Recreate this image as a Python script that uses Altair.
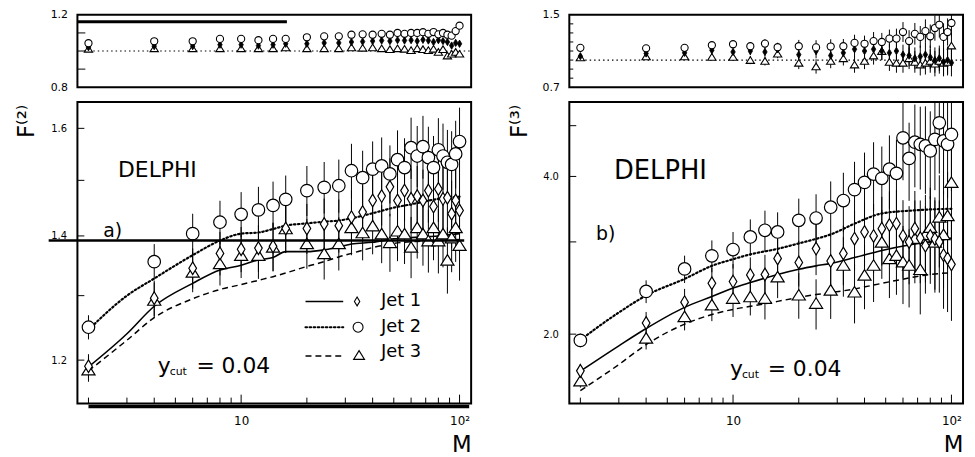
import altair as alt
import pandas as pd

# ---------------- data ----------------
M = [2, 4, 6, 8, 10, 12, 14, 16, 20, 24, 28, 32, 36, 40, 44, 48, 52, 56, 60,
     64, 68, 72, 76, 80, 84, 88, 92, 96, 100]

# panel a) F(2), main
a_jet1 = [1.191, 1.296, 1.345, 1.370, 1.377, 1.379, 1.382, 1.413, 1.413, 1.421, 1.418, 1.433, 1.442, 1.463, 1.471,
          1.488, 1.463, 1.481, 1.466, 1.471, 1.463, 1.481, 1.452, 1.484, 1.466, 1.468, 1.439, 1.463, 1.445]
a_jet2 = [1.250, 1.356, 1.404, 1.424, 1.438, 1.446, 1.454, 1.465, 1.481, 1.487, 1.490, 1.518, 1.505, 1.521, 1.527,
          1.512, 1.539, 1.524, 1.562, 1.546, 1.564, 1.543, 1.524, 1.558, 1.546, 1.534, 1.530, 1.550, 1.574]
a_jet3 = [1.186, 1.293, 1.339, 1.353, 1.367, 1.367, 1.381, 1.413, 1.387, 1.370, 1.387, 1.415, 1.406, 1.418, 1.404,
          1.389, 1.409, 1.404, 1.381, 1.415, 1.404, 1.392, 1.415, 1.392, 1.404, 1.359, 1.397, 1.415, 1.384]
a_rel = [0.015, 0.022, 0.025, 0.027, 0.028, 0.029, 0.030, 0.030, 0.031, 0.032, 0.033, 0.034, 0.034, 0.035, 0.036,
         0.036, 0.037, 0.037, 0.038, 0.038, 0.039, 0.039, 0.040, 0.040, 0.041, 0.041, 0.042, 0.042, 0.043]
a_lineM = [2, 3, 4, 6, 8, 10, 12, 14, 16, 20, 24, 28, 32, 40, 50, 60, 80, 100]
a_mc1 = [1.190, 1.240, 1.283, 1.320, 1.342, 1.350, 1.359, 1.363, 1.373, 1.373, 1.376, 1.381, 1.386, 1.389, 1.395,
         1.397, 1.400, 1.404]
a_mc2 = [1.246, 1.300, 1.328, 1.367, 1.392, 1.404, 1.406, 1.412, 1.418, 1.422, 1.425, 1.427, 1.431, 1.440, 1.450,
         1.456, 1.466, 1.470]
a_mc3 = [1.184, 1.230, 1.265, 1.295, 1.310, 1.318, 1.325, 1.331, 1.337, 1.348, 1.356, 1.364, 1.370, 1.380, 1.387,
         1.390, 1.392, 1.394]

# panel a) top ratio
at_jet1 = [1.021, 1.027, 1.027, 1.035, 1.035, 1.030, 1.035, 1.040, 1.040, 1.045, 1.045, 1.050, 1.052, 1.055, 1.058,
           1.055, 1.060, 1.058, 1.060, 1.055, 1.062, 1.058, 1.050, 1.060, 1.055, 1.050, 1.030, 1.045, 1.040]
at_jet2 = [1.043, 1.054, 1.054, 1.067, 1.067, 1.060, 1.067, 1.067, 1.076, 1.081, 1.081, 1.090, 1.092, 1.090, 1.095,
           1.090, 1.100, 1.095, 1.100, 1.100, 1.104, 1.095, 1.105, 1.092, 1.100, 1.090, 1.085, 1.110, 1.140]
at_jet3 = [1.012, 1.015, 1.015, 1.015, 1.015, 1.015, 1.015, 1.020, 1.015, 1.015, 1.015, 1.020, 1.018, 1.020, 1.015,
           1.010, 1.015, 1.012, 1.005, 1.015, 1.010, 1.005, 1.012, 0.995, 1.010, 0.975, 0.985, 0.995, 0.985]
at_err = [0.008, 0.008, 0.008, 0.009, 0.009, 0.009, 0.010, 0.010, 0.010, 0.011, 0.011, 0.012, 0.012, 0.012, 0.013,
          0.013, 0.013, 0.014, 0.014, 0.014, 0.015, 0.015, 0.015, 0.016, 0.016, 0.016, 0.017, 0.017, 0.017]

# panel b) F(3), main
b_jet1 = [1.702, 2.100, 2.302, 2.502, 2.520, 2.595, 2.600, 2.790, 2.741, 2.913, 2.758, 2.851, 3.043, 3.134, 3.080,
          3.180, 3.230, 3.250, 3.080, 3.000, 3.180, 3.050, 2.950, 3.080, 3.040, 3.000, 2.830, 2.790, 2.718]
b_jet2 = [1.946, 2.413, 2.664, 2.822, 2.901, 3.066, 3.157, 3.134, 3.298, 3.332, 3.494, 3.598, 3.775, 3.897, 4.042,
          3.967, 4.130, 4.055, 4.740, 4.330, 4.650, 4.606, 4.574, 4.475, 4.708, 5.063, 4.676, 4.606, 4.810]
b_jet3 = [1.630, 1.968, 2.163, 2.277, 2.344, 2.360, 2.344, 2.575, 2.378, 2.293, 2.430, 2.710, 2.410, 2.595, 2.710,
          3.000, 2.790, 2.830, 2.750, 2.710, 3.050, 2.660, 3.100, 3.200, 3.000, 3.350, 3.100, 3.370, 3.900]
b_rel = [0.03, 0.05, 0.06, 0.07, 0.08, 0.08, 0.09, 0.09, 0.10, 0.11, 0.12, 0.13, 0.13, 0.14, 0.15,
         0.15, 0.16, 0.16, 0.17, 0.17, 0.18, 0.18, 0.19, 0.19, 0.20, 0.20, 0.21, 0.21, 0.22]
b_lineM = [2, 3, 4, 6, 8, 10, 12, 16, 20, 24, 28, 36, 48, 64, 80, 100]
b_mc1 = [1.70, 1.90, 2.05, 2.25, 2.36, 2.45, 2.51, 2.60, 2.66, 2.70, 2.73, 2.80, 2.89, 2.96, 3.00, 3.05]
b_mc2 = [1.95, 2.20, 2.37, 2.55, 2.70, 2.78, 2.84, 2.91, 2.98, 3.04, 3.10, 3.25, 3.40, 3.44, 3.46, 3.47]
b_mc3 = [1.56, 1.75, 1.91, 2.09, 2.18, 2.23, 2.26, 2.31, 2.35, 2.38, 2.40, 2.44, 2.50, 2.56, 2.60, 2.62]

# panel b) top ratio
bt_jet1 = [1.043, 1.073, 1.080, 1.109, 1.090, 1.100, 1.090, 1.120, 1.060, 1.100, 1.050, 1.080, 1.120, 1.100, 1.120,
           1.100, 1.080, 1.100, 1.060, 1.050, 1.020, 1.040, 1.060, 1.030, 1.000, 1.020, 0.980, 1.000, 0.970]
bt_jet2 = [1.135, 1.130, 1.135, 1.164, 1.175, 1.153, 1.182, 1.142, 1.153, 1.140, 1.150, 1.153, 1.190, 1.180, 1.210,
           1.200, 1.237, 1.237, 1.310, 1.210, 1.290, 1.256, 1.320, 1.263, 1.354, 1.390, 1.256, 1.310, 1.410]
bt_jet3 = [1.030, 1.040, 1.040, 1.035, 1.035, 1.000, 0.990, 1.070, 0.970, 0.930, 0.990, 1.020, 0.950, 0.990, 1.050,
           1.100, 0.980, 0.970, 0.970, 1.020, 0.980, 0.950, 0.970, 0.990, 0.960, 0.990, 0.970, 0.980, 1.160]
bt_err = [0.020, 0.025, 0.030, 0.035, 0.040, 0.045, 0.050, 0.050, 0.070, 0.080, 0.080, 0.080, 0.090, 0.090, 0.100,
          0.100, 0.100, 0.110, 0.110, 0.120, 0.120, 0.120, 0.130, 0.130, 0.140, 0.140, 0.150, 0.150, 0.150]

# axis ticks / labels
x_minor = [2, 3, 4, 5, 6, 7, 8, 9, 20, 30, 40, 50, 60, 70, 80, 90]
x_major = [10, 100]
a_ylab = [1.2, 1.4, 1.6]
a_ytick = [1.2, 1.3, 1.4, 1.5, 1.6]
b_ylab = [2, 4]
b_ytick = [2, 3, 4, 5]
at_ylab = [0.8, 1.2]
at_ytick = [0.9, 1.0, 1.1]
bt_ylab = [0.7, 1.5]
bt_ytick = [0.8, 0.9, 1.0, 1.1, 1.2, 1.3, 1.4]

# ---------------- styling ----------------
W, HT, HM = 397, 73, 304
FONT = "DejaVu Sans"
DIAMOND = "M0,-1L0.6,0L0,1L-0.6,0Z"
TRIANGLE = "M0,-0.8L1,0.8L-1,0.8Z"
one = pd.DataFrame({"k": [0]})

xscale = alt.Scale(type="log", domain=[1.78, 113], nice=False)
xaxis_main = alt.Axis(values=x_major, labelExpr="datum.value == 100 ? '10²' : '10'",
                      ticks=False, tickSize=0, domain=False, grid=False,
                      labelFont=FONT, labelFontSize=12, labelPadding=12, labelColor="black",
                      labelFlush=False, labelOverlap=False,
                      title="M", titleFont=FONT, titleFontSize=23, titleFontWeight="normal",
                      titleColor="black", titleX=W, titleY=48, titleAlign="right",
                      titleBaseline="alphabetic")


def txt(t, x, y, size, align="left"):
    return alt.Chart(one).mark_text(text=t, font=FONT, fontSize=size, align=align,
                                    baseline="alphabetic", color="black").encode(
        x=alt.value(x), y=alt.value(y))


def main_panel(jets, rel, lineM, mcs, ydom, ylab, ytick, ytitle, tx, extra):
    ysc = alt.Scale(type="log", domain=ydom, nice=False)
    yax = alt.Axis(values=ylab, format=".1f", ticks=False, tickSize=0, domain=False, grid=False,
                   labelFont=FONT, labelFontSize=10, labelPadding=11, labelColor="black",
                   labelFlush=False, labelOverlap=False,
                   title=ytitle, titleFont=FONT, titleFontSize=23, titleFontWeight="normal",
                   titleColor="black", titleAngle=270, titleAlign="right",
                   titleBaseline="alphabetic", titleX=tx, titleY=2)

    def X(f):
        return alt.X(f, type="quantitative", scale=xscale, axis=xaxis_main)

    def Y(f):
        return alt.Y(f, type="quantitative", scale=ysc, axis=yax)

    layers = [
        alt.Chart(pd.DataFrame({"t": ytick})).mark_rule(color="black", strokeWidth=1).encode(
            y=Y("t"), x=alt.value(0), x2=alt.value(7)),
        alt.Chart(pd.DataFrame({"t": x_minor})).mark_rule(color="black", strokeWidth=1).encode(
            x=X("t"), y=alt.value(HM), y2=alt.value(HM - 6)),
        alt.Chart(pd.DataFrame({"t": x_major})).mark_rule(color="black", strokeWidth=1).encode(
            x=X("t"), y=alt.value(HM), y2=alt.value(HM - 9)),
    ]
    for vals in jets:
        df = pd.DataFrame({"M": M,
                           "lo": [v * (1 - e) for v, e in zip(vals, rel)],
                           "hi": [v * (1 + e) for v, e in zip(vals, rel)]})
        layers.append(alt.Chart(df).mark_rule(color="black", strokeWidth=1, clip=True).encode(
            x=X("M"), y=Y("lo"), y2="hi"))
    styles = [dict(strokeWidth=1.6), dict(strokeWidth=2.2, strokeDash=[1.5, 2.6], strokeCap="round"),
              dict(strokeWidth=1.5, strokeDash=[6, 4])]
    for vals, st in zip(mcs, styles):
        df = pd.DataFrame({"M": lineM, "v": vals})
        layers.append(alt.Chart(df).mark_line(color="black", clip=True, interpolate="monotone", **st).encode(
            x=X("M"), y=Y("v")))
    shapes = [(DIAMOND, 165), ("circle", 160), (TRIANGLE, 175)]
    for i in [2, 0, 1]:
        shp, sz = shapes[i]
        df = pd.DataFrame({"M": M, "v": jets[i]})
        layers.append(alt.Chart(df).mark_point(shape=shp, size=sz, filled=True, fill="white",
                                               stroke="black", strokeWidth=1.2, opacity=1,
                                               clip=True).encode(x=X("M"), y=Y("v")))
    layers += extra(X, Y)
    return alt.layer(*layers).properties(width=W, height=HM)


def top_panel(jets, err, ydom, ylab, ytick, tlen, extra):
    ysc = alt.Scale(domain=ydom, nice=False, zero=False)
    yax = alt.Axis(values=ylab, format=".1f", ticks=False, tickSize=0, domain=False, grid=False,
                   labelFont=FONT, labelFontSize=11, labelPadding=10, labelColor="black",
                   labelFlush=False, labelOverlap=False, title="")

    def X(f):
        return alt.X(f, type="quantitative", scale=xscale, axis=None)

    def Y(f):
        return alt.Y(f, type="quantitative", scale=ysc, axis=yax)

    layers = [
        alt.Chart(pd.DataFrame({"v": [1.0]})).mark_rule(color="black", strokeWidth=1.2,
                                                        strokeDash=[1.5, 3]).encode(
            y=Y("v"), x=alt.value(7), x2=alt.value(W)),
        alt.Chart(pd.DataFrame({"t": ytick})).mark_rule(color="black", strokeWidth=1).encode(
            y=Y("t"), x=alt.value(0), x2=alt.value(tlen)),
    ]
    for vals in jets:
        df = pd.DataFrame({"M": M,
                           "lo": [v - e for v, e in zip(vals, err)],
                           "hi": [v + e for v, e in zip(vals, err)]})
        layers.append(alt.Chart(df).mark_rule(color="black", strokeWidth=1, clip=True).encode(
            x=X("M"), y=Y("lo"), y2="hi"))
    d3 = pd.DataFrame({"M": M, "v": jets[2]})
    layers.append(alt.Chart(d3).mark_point(shape=TRIANGLE, size=70, filled=True, fill="white",
                                           stroke="black", strokeWidth=1.1, opacity=1, clip=True).encode(
        x=X("M"), y=Y("v")))
    d1 = pd.DataFrame({"M": M, "v": jets[0]})
    layers.append(alt.Chart(d1).mark_point(shape=DIAMOND, size=55, filled=True, fill="black",
                                           stroke="black", strokeWidth=0.8, opacity=1, clip=True).encode(
        x=X("M"), y=Y("v")))
    d2 = pd.DataFrame({"M": M, "v": jets[1]})
    layers.append(alt.Chart(d2).mark_point(shape="circle", size=52, filled=True, fill="white",
                                           stroke="black", strokeWidth=1.1, opacity=1, clip=True).encode(
        x=X("M"), y=Y("v")))
    layers += extra(X, Y)
    return alt.layer(*layers).properties(width=W, height=HT)


def extra_top_a(X, Y):
    df = pd.DataFrame({"v": [1.162], "M1": [1.78], "M2": [16.2]})
    return [alt.Chart(df).mark_rule(color="black", strokeWidth=3).encode(x=X("M1"), x2="M2", y=Y("v"))]


def extra_top_b(X, Y):
    return []


def extra_main_a(X, Y):
    l14 = pd.DataFrame({"v": [1.392]})
    bot = pd.DataFrame({"M1": [2.0], "M2": [110.7]})
    out = [
        alt.Chart(l14).mark_rule(color="black", strokeWidth=2.5).encode(
            y=Y("v"), x=alt.value(-29), x2=alt.value(390)),
        alt.Chart(bot).mark_rule(color="black", strokeWidth=3.5).encode(
            x=X("M1"), x2="M2", y=alt.value(HM + 3)),
        txt("DELPHI", 41, 76, 22),
        txt("a)", 26, 136, 19),
        txt("y", 81, 273, 22),
        txt("cut", 93, 275, 11),
        txt("= 0.04", 120, 273, 22),
        # legend
        alt.Chart(one).mark_rule(color="black", strokeWidth=1.6).encode(
            x=alt.value(230), x2=alt.value(268), y=alt.value(201)),
        alt.Chart(one).mark_rule(color="black", strokeWidth=2.2, strokeDash=[1.5, 2.6], strokeCap="round").encode(
            x=alt.value(230), x2=alt.value(268), y=alt.value(227)),
        alt.Chart(one).mark_rule(color="black", strokeWidth=1.5, strokeDash=[6, 4]).encode(
            x=alt.value(230), x2=alt.value(268), y=alt.value(256)),
        alt.Chart(one).mark_point(shape=DIAMOND, size=81, filled=True, fill="white", stroke="black",
                                  strokeWidth=1.1, opacity=1).encode(x=alt.value(282), y=alt.value(201)),
        alt.Chart(one).mark_point(shape="circle", size=100, filled=True, fill="white", stroke="black",
                                  strokeWidth=1.1, opacity=1).encode(x=alt.value(283), y=alt.value(227)),
        alt.Chart(one).mark_point(shape=TRIANGLE, size=121, filled=True, fill="white", stroke="black",
                                  strokeWidth=1.1, opacity=1).encode(x=alt.value(284), y=alt.value(255)),
        txt("Jet 1", 306, 206, 18),
        txt("Jet 2", 306, 232, 18),
        txt("Jet 3", 306, 257, 18),
    ]
    return out


def extra_main_b(X, Y):
    return [
        txt("DELPHI", 45, 78, 26),
        txt("b)", 27, 139, 19),
        txt("y", 162, 276, 22),
        txt("cut", 174, 278, 11),
        txt("= 0.04", 200, 276, 22),
    ]


top_a = top_panel([at_jet1, at_jet2, at_jet3], at_err, [0.8, 1.2], at_ylab, at_ytick, 8, extra_top_a)
top_b = top_panel([bt_jet1, bt_jet2, bt_jet3], bt_err, [0.7, 1.5], bt_ylab, bt_ytick, 4, extra_top_b)
main_a = main_panel([a_jet1, a_jet2, a_jet3], a_rel, a_lineM, [a_mc1, a_mc2, a_mc3],
                    [1.137, 1.653], a_ylab, a_ytick, "F⁽²⁾", -44, extra_main_a)
main_b = main_panel([b_jet1, b_jet2, b_jet3], b_rel, b_lineM, [b_mc1, b_mc2, b_mc3],
                    [1.474, 5.546], b_ylab, b_ytick, "F⁽³⁾", -43, extra_main_b)

chart = alt.concat(top_a, top_b, main_a, main_b, columns=2,
                   spacing={"row": 15, "column": 99}, bounds="flush",
                   padding={"left": 7, "top": -2, "right": 2, "bottom": 0},
                   background="white").configure_view(stroke="black", strokeWidth=2)

chart.save("out.html", embed_options={"renderer": "svg", "actions": False})
